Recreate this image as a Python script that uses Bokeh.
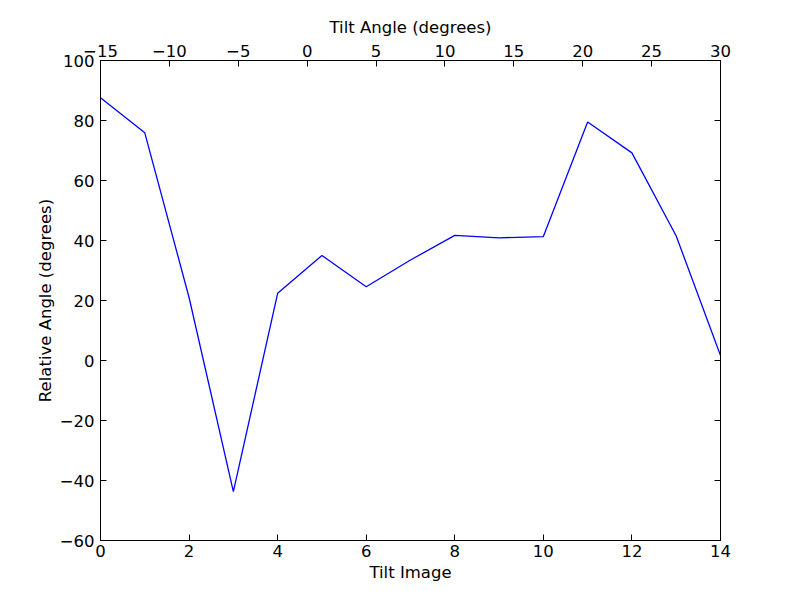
from bokeh.plotting import figure
from bokeh.models import Range1d, LinearAxis, FixedTicker, CustomJSTickFormatter
from bokeh.embed import file_html
from bokeh.resources import INLINE

tilt_image = [0, 1, 2, 3, 4, 5, 6, 7, 8, 9, 10, 11, 12, 13, 14]
relative_angle = [87.6, 75.9, 21.0, -43.7, 22.4, 35.0, 24.6, 33.5, 41.7, 40.9, 41.3, 79.5, 69.2, 41.5, 1.7]

x_ticks = [0, 2, 4, 6, 8, 10, 12, 14]
y_ticks = [-60, -40, -20, 0, 20, 40, 60, 80, 100]
top_ticks = [-15, -10, -5, 0, 5, 10, 15, 20, 25, 30]

def lbl(v):
    return str(v).replace("-", "\u2212")

FONT = "DejaVu Sans"
FS = "16.5px"

p = figure(width=792, height=592, output_backend="svg", toolbar_location=None,
           x_range=Range1d(0, 14), y_range=Range1d(-60, 100),
           x_axis_label="Tilt Image", y_axis_label="Relative Angle (degrees)",
           min_border_left=100, min_border_right=72, min_border_top=60, min_border_bottom=52)
p.extra_x_ranges = {"tilt": Range1d(-15, 30)}
p.grid.visible = False
p.outline_line_color = "black"
p.outline_line_width = 1
p.background_fill_color = "white"
p.border_fill_color = "white"

p.line(tilt_image, relative_angle, line_color="#0000ff", line_width=1.3)

def style(ax, ticks, labels=True):
    ax.ticker = FixedTicker(ticks=ticks)
    ax.major_tick_in = 6
    ax.major_tick_out = 0
    ax.minor_tick_in = 0
    ax.minor_tick_out = 0
    ax.axis_line_color = "black"
    ax.major_tick_line_color = "black"
    ax.major_label_text_font = FONT
    ax.major_label_text_font_size = FS
    ax.major_label_text_color = "black"
    ax.major_label_standoff = 4
    ax.axis_label_text_font = FONT
    ax.axis_label_text_font_size = FS
    ax.axis_label_text_font_style = "normal"
    ax.axis_label_text_color = "black"
    ax.axis_label_standoff = 3
    if labels:
        ax.major_label_overrides = {t: lbl(t) for t in ticks}
    else:
        ax.formatter = CustomJSTickFormatter(code="return '';")

style(p.xaxis[0], x_ticks)
style(p.yaxis[0], y_ticks)
p.yaxis[0].major_label_standoff = 6
p.yaxis[0].axis_label_standoff = 2

top = LinearAxis(x_range_name="tilt", axis_label="Tilt Angle (degrees)")
style(top, top_ticks)
top.axis_label_standoff = 5
p.add_layout(top, "above")

right = LinearAxis()
style(right, y_ticks, labels=False)
p.add_layout(right, "right")

open("out.html", "w").write(file_html(p, INLINE))
